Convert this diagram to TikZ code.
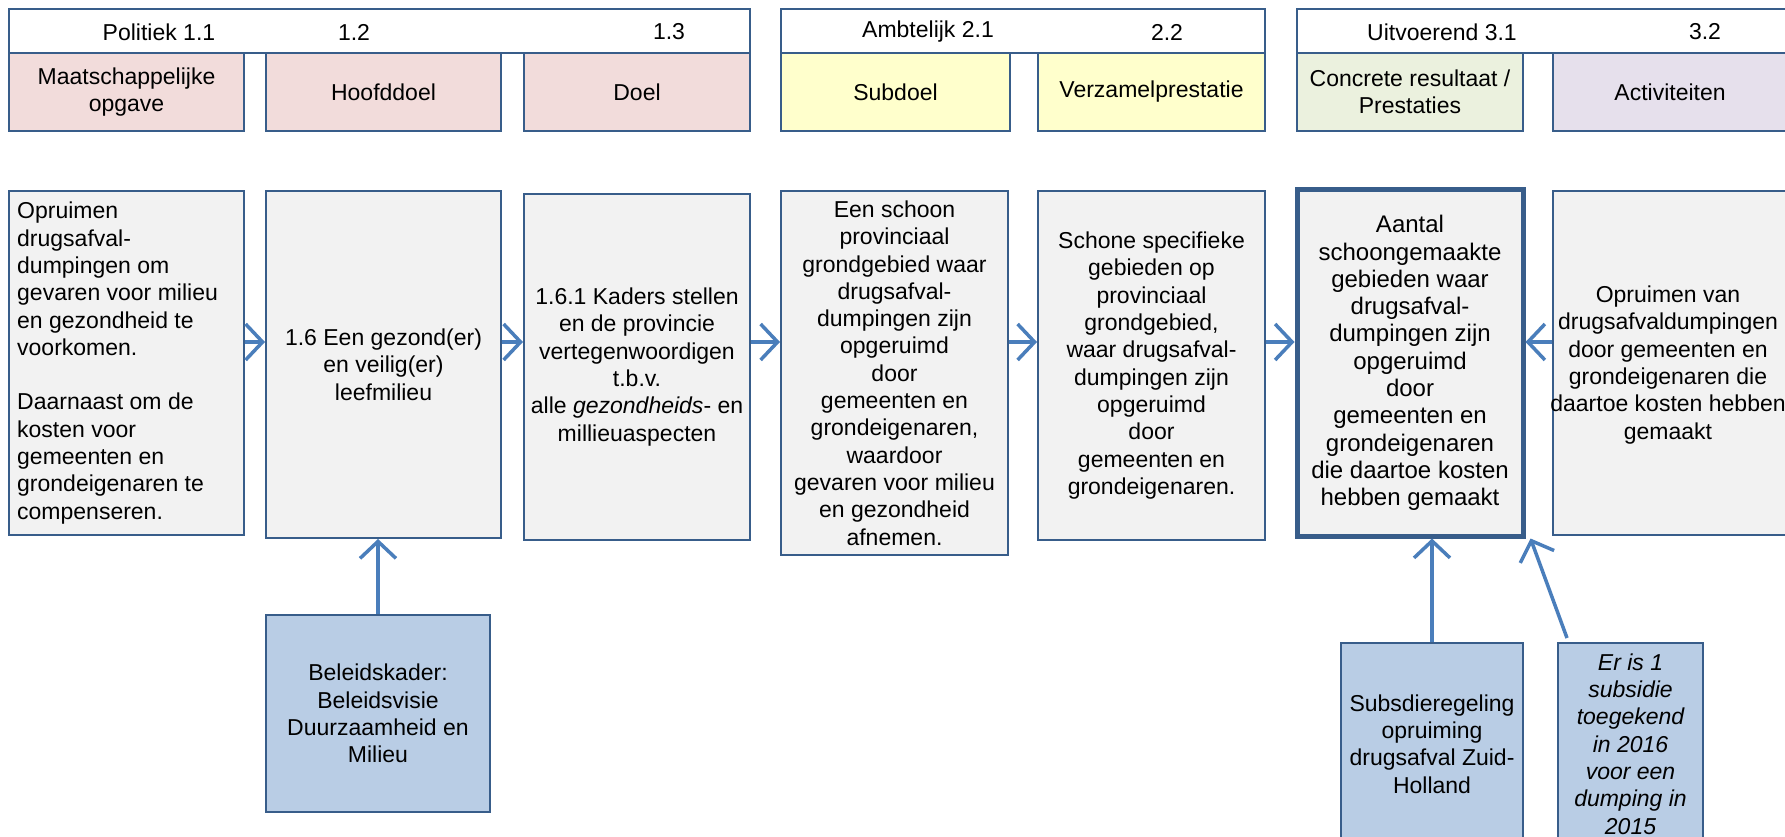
\documentclass[tikz,border=0pt]{standalone}
\usepackage{fontspec}
\setmainfont{Liberation Sans}
\usetikzlibrary{arrows.meta,calc}
\definecolor{bordc}{HTML}{385D8A}
\definecolor{arrc}{HTML}{4A7EBB}
\definecolor{pinkc}{HTML}{F2DCDB}
\definecolor{yelc}{HTML}{FFFFCC}
\definecolor{grnc}{HTML}{EBF1DE}
\definecolor{lavc}{HTML}{E6E0EC}
\definecolor{grayc}{HTML}{F2F2F2}
\definecolor{bluec}{HTML}{B9CDE5}
\tikzset{
  bx/.style={draw=bordc, line width=2pt, rectangle, inner sep=0pt, align=center,
    font=\fontsize{23}{27.3}\selectfont},
  hdr/.style={bx, fill=white},
  cat/.style={bx},
  mainbox/.style={bx, fill=grayc},
  botbox/.style={bx, fill=bluec},
  lbl/.style={inner sep=0pt, align=center, font=\fontsize{23}{27.3}\selectfont},
  arr/.style={draw=arrc, line width=3.5pt, -{Straight Barb[length=17pt,width=36pt,line width=3.5pt]}},
}
\begin{document}
\begin{tikzpicture}[x=1pt,y=-1pt]
\clip (0,0) rectangle (1785,837);
\fill[white] (0,0) rectangle (1785,837);
% header boxes
\node[hdr, minimum width=741, minimum height=44] (h1) at (379.5,31) {};
\node[hdr, minimum width=484, minimum height=44] (h2) at (1023,31) {};
\node[hdr, minimum width=503, minimum height=44] (h3) at (1548.5,31) {};
\node[lbl] (t11) at (159,32) {Politiek 1.1};
\node[lbl] (t12) at (354,32) {1.2};
\node[lbl] (t13) at (669,32) {1.3};
\node[lbl] (t21) at (928,32) {Ambtelijk 2.1};
\node[lbl] (t22) at (1167,32) {2.2};
\node[lbl] (t31) at (1442,32) {Uitvoerend 3.1};
\node[lbl] (t32) at (1705,32) {3.2};
% category boxes
\node[cat, fill=pinkc, minimum width=235, minimum height=78] (c1) at (126.5,92) {Maatschappelijke\\opgave};
\node[cat, fill=pinkc, minimum width=235, minimum height=78] (c2) at (383.5,92) {Hoofddoel};
\node[cat, fill=pinkc, minimum width=226, minimum height=78] (c3) at (637,92) {Doel};
\node[cat, fill=yelc, minimum width=229, minimum height=78] (c4) at (895.5,92) {Subdoel};
\node[cat, fill=yelc, minimum width=227, minimum height=78] (c5) at (1151.5,92) {Verzamelprestatie};
\node[cat, fill=grnc, minimum width=226, minimum height=78] (c6) at (1410,92) {Concrete resultaat /\\Prestaties};
\node[cat, fill=lavc, minimum width=234, minimum height=78] (c7) at (1670,92) {Activiteiten};
% main boxes
\node[mainbox, minimum width=235, minimum height=344] (b1) at (126.5,363) {};
\node[lbl, anchor=west, align=left] (b1t) at (17,363) {Opruimen\\drugsafval-\\dumpingen om\\gevaren voor milieu\\en gezondheid te\\voorkomen.\\[27.3pt]Daarnaast om de\\kosten voor\\gemeenten en\\grondeigenaren te\\compenseren.};
\node[mainbox, minimum width=235, minimum height=347] (b2) at (383.5,364.5) {1.6 Een gezond(er)\\en veilig(er)\\leefmilieu};
\node[mainbox, minimum width=226, minimum height=346] (b3) at (637,367) {1.6.1 Kaders stellen\\en de provincie\\vertegenwoordigen\\t.b.v.\\alle \textit{gezondheids}- en\\millieuaspecten};
\node[mainbox, minimum width=227, minimum height=364] (b4) at (894.5,373) {Een schoon\\provinciaal\\grondgebied waar\\drugsafval-\\dumpingen zijn\\opgeruimd\\door\\gemeenten en\\grondeigenaren,\\waardoor\\gevaren voor milieu\\en gezondheid\\afnemen.};
\node[mainbox, minimum width=227, minimum height=349] (b5) at (1151.5,365.5) {Schone specifieke\\gebieden op\\provinciaal\\grondgebied,\\waar drugsafval-\\dumpingen zijn\\opgeruimd\\door\\gemeenten en\\grondeigenaren.};
\node[mainbox, line width=5pt, minimum width=226, minimum height=346, font=\fontsize{24}{27.3}\selectfont] (b6) at (1410,363) {Aantal\\schoongemaakte\\gebieden waar\\drugsafval-\\dumpingen zijn\\opgeruimd\\door\\gemeenten en\\grondeigenaren\\die daartoe kosten\\hebben gemaakt};
\node[mainbox, minimum width=234, minimum height=344] (b7) at (1670,363) {};
\node[lbl] (b7t) at (1668,365) {Opruimen van\\drugsafvaldumpingen\\door gemeenten en\\grondeigenaren die\\daartoe kosten hebben\\gemaakt};
% bottom boxes
\node[botbox, minimum width=224, minimum height=197] (k1) at (378,713.5) {Beleidskader:\\Beleidsvisie\\Duurzaamheid en\\Milieu};
\node[botbox, minimum width=182, minimum height=202] (k2) at (1432,744) {Subsdieregeling\\opruiming\\drugsafval Zuid-\\Holland};
\node[botbox, minimum width=145, minimum height=202] (k3) at (1630.5,744) {\itshape Er is 1\\\itshape subsidie\\\itshape toegekend\\\itshape in 2016\\\itshape voor een\\\itshape dumping in\\\itshape 2015};
% connectors
\coordinate (ay) at (0,342);
\draw[arr] (b1.east |- ay) -- (b2.west |- ay);
\draw[arr] (b2.east |- ay) -- (b3.west |- ay);
\draw[arr] (b3.east |- ay) -- (b4.west |- ay);
\draw[arr] (b4.east |- ay) -- (b5.west |- ay);
\draw[arr] (b5.east |- ay) -- (b6.west |- ay);
\draw[arr] (b7.west |- ay) -- (b6.east |- ay);
\draw[arr] (k1.north) -- (k1.north |- b2.south);
\draw[arr] (k2.north) -- (k2.north |- b6.south);
\draw[arr] ($(k3.north west)+(10,-4)$) -- ($(b6.south east)+(5,0)$);
\end{tikzpicture}
\end{document}
